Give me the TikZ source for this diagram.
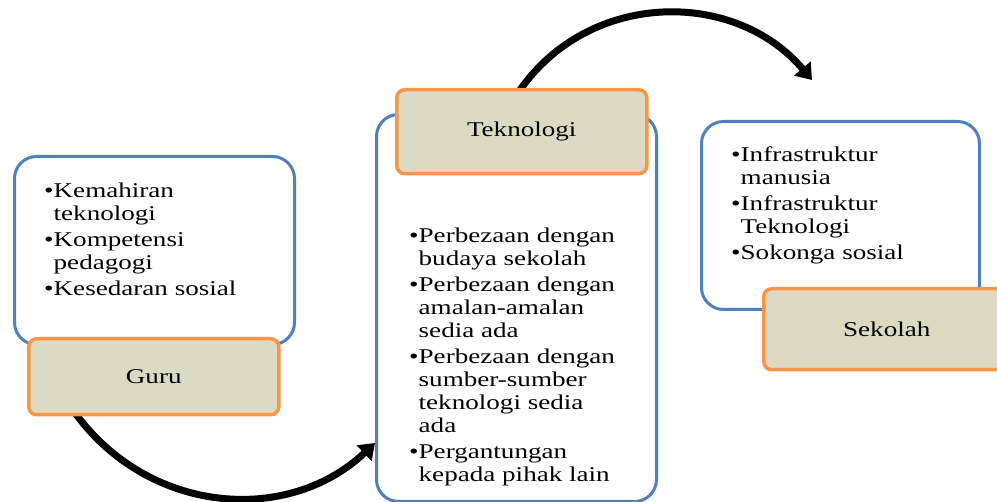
\documentclass[tikz,border=0pt]{standalone}
\usepackage{fontspec}
\setmainfont{Liberation Serif}[FakeStretch=1.29]
\usetikzlibrary{arrows.meta}
\definecolor{bluebox}{HTML}{4F81BD}
\definecolor{orangebox}{HTML}{F79646}
\definecolor{tanfill}{HTML}{DDD9C3}
\begin{document}
\begin{tikzpicture}[x=1pt,y=-1pt,
  bluerect/.style={draw=bluebox, line width=3pt, rounded corners=22pt, fill=white, inner sep=0pt, anchor=north west},
  orangerect/.style={draw=orangebox, line width=3.5pt, rounded corners=8pt, fill=tanfill, inner sep=0pt, anchor=north west},
  lbltext/.style={inner sep=0pt, font=\fontsize{21}{23}\selectfont},
  bullettext/.style={anchor=base west, inner sep=0pt, font=\fontsize{21}{23}\selectfont},
  curvearrow/.style={line width=7pt, -{Triangle[width=21pt,length=15pt]}}
]
\useasboundingbox (0,0) rectangle (997,502);
\clip (0,0) rectangle (997,502);

% connectors (behind boxes)
\coordinate (a1s) at (520,90);
\coordinate (a1e) at (812,80);
\coordinate (a2s) at (73,410);
\coordinate (a2e) at (375,443);
\draw[curvearrow] (a1s) .. controls (590,-10) and (735,-11) .. (a1e);
\draw[curvearrow] (a2s) .. controls (146,514) and (287,526) .. (a2e);

% Guru
\node[bluerect, minimum width=280pt, minimum height=188pt] (gurub) at (13,155) {};
\node[bullettext] (gurut) at (44,198) {\begin{tabular}[t]{@{}l@{}l@{}}
•&Kemahiran\\ &teknologi\\[3pt]
•&Kompetensi\\ &pedagogi\\[3pt]
•&Kesedaran sosial
\end{tabular}};
\node[orangerect, minimum width=250pt, minimum height=76pt] (guruo) at (27,337) {};
\node[lbltext] (gurul) at (guruo.center) {Guru};

% Teknologi
\node[bluerect, minimum width=280pt, minimum height=387pt] (tekb) at (375,113) {};
\node[bullettext] (tekt) at (409,243) {\begin{tabular}[t]{@{}l@{}l@{}}
•&Perbezaan dengan\\ &budaya sekolah\\[3pt]
•&Perbezaan dengan\\ &amalan-amalan\\ &sedia ada\\[3pt]
•&Perbezaan dengan\\ &sumber-sumber\\ &teknologi sedia\\ &ada\\[3pt]
•&Pergantungan\\ &kepada pihak lain
\end{tabular}};
\node[orangerect, minimum width=250pt, minimum height=84pt] (teko) at (395,88) {};
\node[lbltext] (tekl) at (teko.center) {Teknologi};

% Sekolah
\node[bluerect, minimum width=278pt, minimum height=188pt] (sekb) at (700,120) {};
\node[bullettext] (sekt) at (731,162) {\begin{tabular}[t]{@{}l@{}l@{}}
•&Infrastruktur\\ &manusia\\[3pt]
•&Infrastruktur\\ &Teknologi\\[3pt]
•&Sokonga sosial
\end{tabular}};
\node[orangerect, minimum width=246pt, minimum height=81pt] (seko) at (762,287) {};
\node[lbltext] (sekl) at (seko.center) {Sekolah};
\end{tikzpicture}
\end{document}
